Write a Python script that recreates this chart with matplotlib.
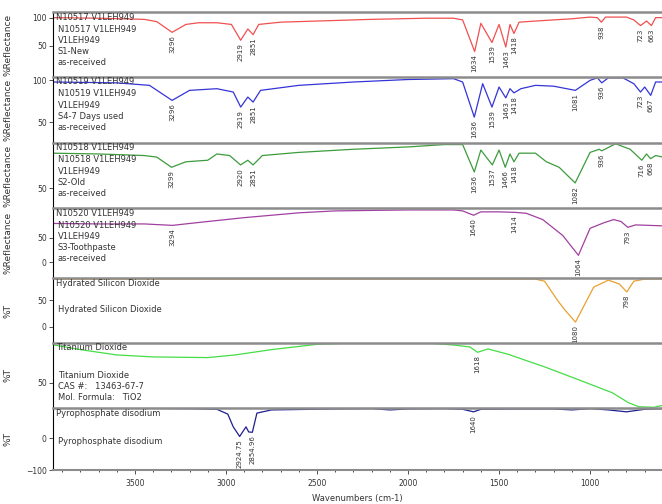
import numpy as np
import matplotlib.pyplot as plt
from matplotlib.ticker import MultipleLocator

# Datos: numero de onda (cm-1) y valor de cada traza
s1_wn = [3950, 3700, 3450, 3380, 3296, 3220, 3150, 3050, 2970, 2919, 2880, 2851, 2820, 2700, 2500, 2200,
         1900, 1750, 1700, 1634, 1600, 1539, 1500, 1463, 1440, 1418, 1390, 1300, 1100, 1000, 960, 938, 915,
         800, 760, 723, 690, 663, 640, 600]
s1_val = [100, 99, 97, 93, 74, 88, 91, 91, 88, 60, 80, 70, 88, 92, 94, 97,
          99, 99, 96, 40, 90, 56, 88, 48, 88, 72, 92, 94, 98, 101, 100, 92, 101,
          101, 96, 86, 94, 86, 100, 100]

s4_wn = [3950, 3600, 3420, 3296, 3200, 3050, 2960, 2919, 2880, 2851, 2810, 2600, 2300, 2000, 1750, 1700,
         1636, 1590, 1539, 1500, 1463, 1440, 1418, 1380, 1300, 1200, 1081, 1000, 960, 936, 900, 820, 760,
         723, 700, 667, 640, 600]
s4_val = [98, 97, 94, 76, 88, 90, 86, 68, 80, 74, 88, 94, 98, 101, 102, 98,
          56, 96, 68, 92, 79, 90, 85, 90, 94, 93, 88, 100, 103, 97, 103, 103, 96,
          86, 92, 82, 98, 98]

s2_wn = [3950, 3700, 3450, 3380, 3299, 3220, 3100, 3050, 2980, 2920, 2880, 2851, 2800, 2600, 2300, 2000,
         1800, 1700, 1636, 1600, 1537, 1500, 1466, 1440, 1418, 1390, 1300, 1240, 1170, 1082, 1000, 950,
         936, 860, 780, 716, 690, 668, 640, 600]
s2_val = [95, 94, 92, 90, 77, 84, 86, 94, 92, 80, 86, 80, 92, 96, 100, 103,
          106, 106, 71, 99, 80, 99, 77, 94, 84, 95, 95, 84, 77, 57, 96, 100,
          98, 107, 100, 86, 94, 88, 92, 90]

s3_wn = [3950, 3700, 3450, 3294, 3150, 2900, 2600, 2400, 2000, 1750, 1700, 1640, 1600, 1500, 1414, 1350,
         1260, 1150, 1064, 1000, 920, 870, 830, 793, 750, 600]
s3_val = [80, 79, 79, 76, 82, 92, 102, 106, 108, 108, 106, 97, 104, 104, 103, 101,
          88, 55, 14, 70, 82, 88, 84, 72, 77, 75]

sio2_wn = [3950, 1300, 1250, 1180, 1140, 1080, 1040, 980, 900, 840, 798, 760, 700, 600]
sio2_val = [89, 89, 85, 50, 32, 9, 35, 74, 87, 80, 65, 85, 89, 89]

tio2_wn = [3944, 3800, 3600, 3400, 3100, 2950, 2750, 2500, 2300, 1900, 1750, 1660, 1618, 1560, 1450,
           1250, 1067, 878, 789, 733, 650, 600]
tio2_val = [107, 100, 92, 89, 88, 92, 100, 108, 110, 110, 107, 104, 96, 101, 93,
            74, 55, 35, 20, 14, 13, 16]

pyro_wn = [3950, 3500, 3200, 3050, 2990, 2960, 2924.75, 2890, 2875, 2854.96, 2830, 2750, 2400, 2200,
           2100, 2000, 1800, 1700, 1640, 1600, 1400, 1200, 1100, 1000, 900, 800, 700, 600]
pyro_val = [93, 93, 92, 90, 75, 35, 5, 35, 19, 18, 78, 88, 91, 92,
            88, 91, 92, 90, 82, 90, 91, 91, 88, 92, 88, 82, 90, 92]

# Picos marcados en cada traza
s1_peaks = [3296, 2919, 2851, 1634, 1539, 1463, 1418, 938, 723, 663]
s4_peaks = [3296, 2919, 2851, 1636, 1539, 1463, 1418, 1081, 936, 723, 667]
s2_peaks = [3299, 2920, 2851, 1636, 1537, 1466, 1418, 1082, 936, 716, 668]
s3_peaks = [3294, 1640, 1414, 1064, 793]
sio2_peaks = [1080, 798]
tio2_peaks = [1618]
pyro_peaks = [2924.75, 2854.96, 1640]

paneles = [
    dict(wn=s1_wn, val=s1_val, peaks=s1_peaks, color='#f05050', ylab='%Reflectance',
         ylim=(-5, 110), yticks=[50, 100], head='N10517 V1LEH949',
         body=['N10517 V1LEH949', 'V1LEH949', 'S1-New', 'as-received'], start=17),
    dict(wn=s4_wn, val=s4_val, peaks=s4_peaks, color='#3434d8', ylab='%Reflectance',
         ylim=(25, 104), yticks=[50, 100], head='N10519 V1LEH949',
         body=['N10519 V1LEH949', 'V1LEH949', 'S4-7 Days used', 'as-received'], start=17),
    dict(wn=s2_wn, val=s2_val, peaks=s2_peaks, color='#3c9c3c', ylab='%Reflectance',
         ylim=(25, 108), yticks=[50], head='N10518 V1LEH949',
         body=['N10518 V1LEH949', 'V1LEH949', 'S2-Old', 'as-received'], start=17),
    dict(wn=s3_wn, val=s3_val, peaks=s3_peaks, color='#a040a0', ylab='%Reflectance',
         ylim=(-33, 112), yticks=[0, 50], head='N10520 V1LEH949',
         body=['N10520 V1LEH949', 'V1LEH949', 'S3-Toothpaste', 'as-received'], start=17),
    dict(wn=sio2_wn, val=sio2_val, peaks=sio2_peaks, color='#e8a030', ylab='%T',
         ylim=(-30, 91), yticks=[0, 50], head='Hydrated Silicon Dioxide',
         body=['Hydrated Silicon Dioxide'], start=31),
    dict(wn=tio2_wn, val=tio2_val, peaks=tio2_peaks, color='#44dd44', ylab='%T',
         ylim=(12, 110), yticks=[50], head='Titanium Dioxide',
         body=['Titanium Dioxide', 'CAS #:   13463-67-7', 'Mol. Formula:   TiO2'], start=32),
    dict(wn=pyro_wn, val=pyro_val, peaks=pyro_peaks, color='#1e1e90', ylab='%T',
         ylim=(-100, 94), yticks=[-100, 0], head='Pyrophosphate disodium',
         body=['Pyrophosphate disodium'], start=33),
]

W, H = 662, 504
tops = [12, 77, 143, 208, 278, 343, 408, 470]
izq = 53

fig = plt.figure(figsize=(W / 100, H / 100), dpi=100)

for i, p in enumerate(paneles):
    t, b = tops[i], tops[i + 1]
    ax = fig.add_axes([izq / W, 1 - b / H, (W - izq) / W, (b - t) / H])
    ax.plot(p['wn'], p['val'], color=p['color'], lw=0.9)
    ax.set_xlim(3950, 605)
    ax.set_ylim(*p['ylim'])
    ax.set_yticks(p['yticks'])
    ax.tick_params(axis='y', labelsize=5.5, length=3, width=0.6, pad=1.5, colors='#333333')

    ax.spines['right'].set_visible(False)
    ax.spines['top'].set_color('#8c8c8c')
    ax.spines['top'].set_linewidth(1.8)
    ax.spines['left'].set_linewidth(0.8)
    ultimo = i == len(paneles) - 1
    if ultimo:
        ax.spines['bottom'].set_color('#8c8c8c')
        ax.spines['bottom'].set_linewidth(1.5)
        ax.xaxis.set_major_locator(MultipleLocator(500))
        ax.xaxis.set_minor_locator(MultipleLocator(100))
        ax.tick_params(axis='x', labelsize=5.5, length=3, width=0.6, colors='#333333')
        ax.tick_params(axis='x', which='minor', length=1.5, width=0.5)
        ax.set_xlabel('Wavenumbers (cm-1)', fontsize=6, color='#333333', labelpad=4)
    else:
        ax.spines['bottom'].set_visible(False)
        ax.set_xticks([])

    ax.set_ylabel(p['ylab'], fontsize=6.5, color='#333333')
    ax.yaxis.set_label_coords(-0.066, 0.5)

    # cabecera y bloque de texto
    ax.annotate(p['head'], (0, 1), xycoords='axes fraction', xytext=(3, -5),
                textcoords='offset pixels', fontsize=6, va='center', ha='left', color='#333333')
    for k, linea in enumerate(p['body']):
        ax.annotate(linea, (0, 1), xycoords='axes fraction',
                    xytext=(5, -p['start'] - 11.2 * k), textcoords='offset pixels',
                    fontsize=6, va='center', ha='left', color='#333333')

    # etiquetas de picos
    orden = np.argsort(p['wn'])
    wn_s = np.array(p['wn'])[orden]
    val_s = np.array(p['val'])[orden]
    for pk in p['peaks']:
        y = np.interp(pk, wn_s, val_s)
        txt = ('%.2f' % pk) if pk != int(pk) else str(int(pk))
        ax.annotate(txt, (pk, y), xytext=(0, -3), textcoords='offset pixels',
                    rotation=90, fontsize=5, ha='center', va='top', color='#333333')

plt.savefig('out.png', dpi=100)
